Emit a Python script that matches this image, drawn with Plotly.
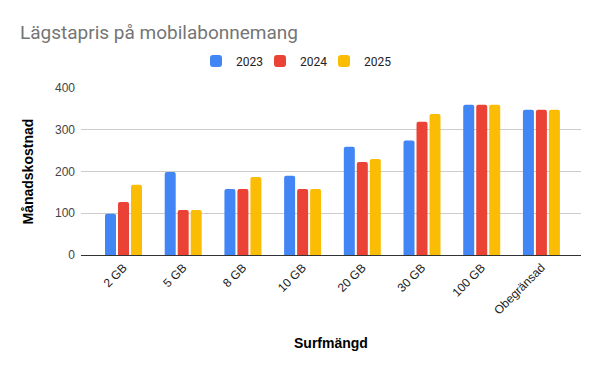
import plotly.graph_objects as go

categories = ["2 GB", "5 GB", "8 GB", "10 GB", "20 GB", "30 GB", "100 GB", "Obegränsad"]
y2023 = [99, 199, 158, 190, 259, 274, 360, 348]
y2024 = [127, 108, 158, 158, 223, 319, 360, 348]
y2025 = [168, 108, 187, 158, 230, 338, 360, 348]
series_names = ["2023", "2024", "2025"]
colors = ["#4285F4", "#EA4335", "#FBBC04"]

W, H = 600, 371
L, R, T, B = 81, 19, 88, 116
PW, PH = W - L - R, H - T - B

legend_ids = ["legend", "legend2", "legend3"]
legend_x = [196, 260, 324]

fig = go.Figure()
for name, vals, col, lid in zip(series_names, [y2023, y2024, y2025], colors, legend_ids):
    fig.add_trace(go.Bar(x=categories, y=vals, name=name, marker_color=col,
                         marker_line_width=0, legend=lid, showlegend=True))

legend_common = dict(orientation="h", xanchor="left", xref="container",
                     y=1 - 61/H, yref="container", yanchor="middle",
                     font=dict(family="Roboto, Arial", size=12, color="#222222"),
                     itemwidth=30, bgcolor="rgba(0,0,0,0)", visible=True)

fig.update_layout(
    width=W, height=H, showlegend=True,
    margin=dict(l=L, r=R, t=T, b=B, autoexpand=False),
    paper_bgcolor="white", plot_bgcolor="white",
    title=dict(text="Lägstapris på mobilabonnemang", x=20/W, xanchor="left", xref="container",
               y=1 - 32/H, yref="container", yanchor="middle",
               font=dict(family="Roboto, Arial", size=19, color="#757575")),
    barmode="group", bargap=0.347, bargroupgap=0.154, barcornerradius=2,
    legend=dict(x=legend_x[0] / W, **legend_common),
    legend2=dict(x=legend_x[1] / W, **legend_common),
    legend3=dict(x=legend_x[2] / W, **legend_common),
    font=dict(family="Roboto, Arial", size=12, color="#444444"),
    annotations=[
        dict(text="Surfmängd", x=0.5, xref="paper", y=(H - B - 343) / PH, yref="paper",
             xanchor="center", yanchor="middle", showarrow=False,
             font=dict(family="Liberation Sans, Arial", size=14, color="#000000", weight="bold")),
        dict(text="Månadskostnad", x=(27 - L) / PW, xref="paper", y=0.5, yref="paper",
             xanchor="center", yanchor="middle", showarrow=False, textangle=-90,
             font=dict(family="Liberation Sans, Arial", size=14, color="#000000", weight="bold")),
    ],
)

fig.update_xaxes(
    range=[-0.712, 7.663],
    tickangle=-45, showgrid=False, showline=True, linecolor="#333333", linewidth=1,
    tickfont=dict(family="Liberation Sans, Arial", size=12, color="#222222"),
    ticks="", fixedrange=True, automargin=False,
)
fig.update_yaxes(
    range=[0, 400], dtick=100, showgrid=True, gridcolor="#cccccc", gridwidth=1,
    zeroline=True, zerolinecolor="#333333", zerolinewidth=1,
    tickfont=dict(family="Liberation Sans, Arial", size=12, color="#444444"),
    ticks="", ticklabelstandoff=5, automargin=False, fixedrange=True,
)

fig.write_html("out.html", config={"displayModeBar": False},
               post_script="document.body.style.margin='0';")
